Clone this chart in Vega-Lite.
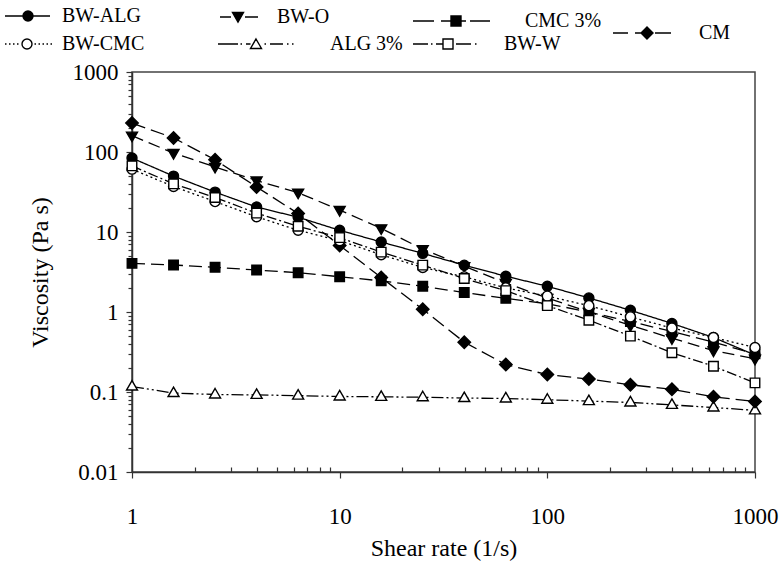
{
  "$schema": "https://vega.github.io/schema/vega-lite/v6.json",
  "width": 623,
  "height": 400,
  "autosize": {"type": "none"},
  "padding": {"left": 132, "top": 72, "right": 28, "bottom": 93},
  "background": "white",
  "config": {
    "view": {"stroke": "#444", "strokeWidth": 1.5},
    "font": "Liberation Serif",
    "axis": {"labelFont": "Liberation Serif", "labelFontSize": 23, "labelColor": "black", "titleFont": "Liberation Serif", "titleFontSize": 24, "titleFontWeight": "normal", "titleColor": "black", "grid": false, "domainColor": "#333", "domainWidth": 1.5, "tickColor": "#333", "tickWidth": 1.2, "labelFlush": false, "labelOverlap": false},
    "legend": {"symbolSize": 400, "symbolStrokeWidth": 1.4, "symbolOpacity": 1, "labelFont": "Liberation Serif", "labelFontSize": 20, "labelColor": "black", "labelOffset": 10, "padding": 0}
  },
  "data": {"values": [
    {"series":"ALG 3%","shear":1,"visc":0.117},{"series":"ALG 3%","shear":1.585,"visc":0.097},{"series":"ALG 3%","shear":2.512,"visc":0.093},{"series":"ALG 3%","shear":3.981,"visc":0.092},{"series":"ALG 3%","shear":6.31,"visc":0.09},{"series":"ALG 3%","shear":10,"visc":0.088},{"series":"ALG 3%","shear":15.85,"visc":0.087},{"series":"ALG 3%","shear":25.12,"visc":0.086},{"series":"ALG 3%","shear":39.81,"visc":0.084},{"series":"ALG 3%","shear":63.1,"visc":0.083},{"series":"ALG 3%","shear":100,"visc":0.08},{"series":"ALG 3%","shear":158.5,"visc":0.077},{"series":"ALG 3%","shear":251.2,"visc":0.074},{"series":"ALG 3%","shear":398.1,"visc":0.069},{"series":"ALG 3%","shear":631,"visc":0.064},{"series":"ALG 3%","shear":1000,"visc":0.059},
    {"series":"CM","shear":1,"visc":230},{"series":"CM","shear":1.585,"visc":150},{"series":"CM","shear":2.512,"visc":80},{"series":"CM","shear":3.981,"visc":36.5},{"series":"CM","shear":6.31,"visc":17},{"series":"CM","shear":10,"visc":6.8},{"series":"CM","shear":15.85,"visc":2.7},{"series":"CM","shear":25.12,"visc":1.08},{"series":"CM","shear":39.81,"visc":0.42},{"series":"CM","shear":63.1,"visc":0.22},{"series":"CM","shear":100,"visc":0.165},{"series":"CM","shear":158.5,"visc":0.145},{"series":"CM","shear":251.2,"visc":0.123},{"series":"CM","shear":398.1,"visc":0.108},{"series":"CM","shear":631,"visc":0.087},{"series":"CM","shear":1000,"visc":0.076},
    {"series":"CMC 3%","shear":1,"visc":4.05},{"series":"CMC 3%","shear":1.585,"visc":3.87},{"series":"CMC 3%","shear":2.512,"visc":3.62},{"series":"CMC 3%","shear":3.981,"visc":3.35},{"series":"CMC 3%","shear":6.31,"visc":3.1},{"series":"CMC 3%","shear":10,"visc":2.76},{"series":"CMC 3%","shear":15.85,"visc":2.45},{"series":"CMC 3%","shear":25.12,"visc":2.1},{"series":"CMC 3%","shear":39.81,"visc":1.75},{"series":"CMC 3%","shear":63.1,"visc":1.48},{"series":"CMC 3%","shear":100,"visc":1.27},{"series":"CMC 3%","shear":158.5,"visc":1.0},{"series":"CMC 3%","shear":251.2,"visc":0.76},{"series":"CMC 3%","shear":398.1,"visc":0.57},{"series":"CMC 3%","shear":631,"visc":0.42},{"series":"CMC 3%","shear":1000,"visc":0.3},
    {"series":"BW-O","shear":1,"visc":160},{"series":"BW-O","shear":1.585,"visc":97},{"series":"BW-O","shear":2.512,"visc":65},{"series":"BW-O","shear":3.981,"visc":44},{"series":"BW-O","shear":6.31,"visc":31},{"series":"BW-O","shear":10,"visc":18.8},{"series":"BW-O","shear":15.85,"visc":11.1},{"series":"BW-O","shear":25.12,"visc":6.1},{"series":"BW-O","shear":39.81,"visc":3.75},{"series":"BW-O","shear":63.1,"visc":2.3},{"series":"BW-O","shear":100,"visc":1.5},{"series":"BW-O","shear":158.5,"visc":1.0},{"series":"BW-O","shear":251.2,"visc":0.68},{"series":"BW-O","shear":398.1,"visc":0.47},{"series":"BW-O","shear":631,"visc":0.33},{"series":"BW-O","shear":1000,"visc":0.26},
    {"series":"BW-ALG","shear":1,"visc":84},{"series":"BW-ALG","shear":1.585,"visc":50},{"series":"BW-ALG","shear":2.512,"visc":31.5},{"series":"BW-ALG","shear":3.981,"visc":20.5},{"series":"BW-ALG","shear":6.31,"visc":15.3},{"series":"BW-ALG","shear":10,"visc":10.5},{"series":"BW-ALG","shear":15.85,"visc":7.5},{"series":"BW-ALG","shear":25.12,"visc":5.4},{"series":"BW-ALG","shear":39.81,"visc":3.85},{"series":"BW-ALG","shear":63.1,"visc":2.8},{"series":"BW-ALG","shear":100,"visc":2.1},{"series":"BW-ALG","shear":158.5,"visc":1.5},{"series":"BW-ALG","shear":251.2,"visc":1.05},{"series":"BW-ALG","shear":398.1,"visc":0.72},{"series":"BW-ALG","shear":631,"visc":0.48},{"series":"BW-ALG","shear":1000,"visc":0.29},
    {"series":"BW-CMC","shear":1,"visc":61},{"series":"BW-CMC","shear":1.585,"visc":37},{"series":"BW-CMC","shear":2.512,"visc":24},{"series":"BW-CMC","shear":3.981,"visc":15.5},{"series":"BW-CMC","shear":6.31,"visc":10.5},{"series":"BW-CMC","shear":10,"visc":7.8},{"series":"BW-CMC","shear":15.85,"visc":5.2},{"series":"BW-CMC","shear":25.12,"visc":3.6},{"series":"BW-CMC","shear":39.81,"visc":2.75},{"series":"BW-CMC","shear":63.1,"visc":2.0},{"series":"BW-CMC","shear":100,"visc":1.58},{"series":"BW-CMC","shear":158.5,"visc":1.2},{"series":"BW-CMC","shear":251.2,"visc":0.87},{"series":"BW-CMC","shear":398.1,"visc":0.63},{"series":"BW-CMC","shear":631,"visc":0.48},{"series":"BW-CMC","shear":1000,"visc":0.36},
    {"series":"BW-W","shear":1,"visc":67},{"series":"BW-W","shear":1.585,"visc":40},{"series":"BW-W","shear":2.512,"visc":27},{"series":"BW-W","shear":3.981,"visc":17.2},{"series":"BW-W","shear":6.31,"visc":11.8},{"series":"BW-W","shear":10,"visc":8.5},{"series":"BW-W","shear":15.85,"visc":5.6},{"series":"BW-W","shear":25.12,"visc":3.85},{"series":"BW-W","shear":39.81,"visc":2.62},{"series":"BW-W","shear":63.1,"visc":1.85},{"series":"BW-W","shear":100,"visc":1.2},{"series":"BW-W","shear":158.5,"visc":0.79},{"series":"BW-W","shear":251.2,"visc":0.5},{"series":"BW-W","shear":398.1,"visc":0.31},{"series":"BW-W","shear":631,"visc":0.21},{"series":"BW-W","shear":1000,"visc":0.13}
  ]},
  "layer": [
    {
      "mark": {"type": "line", "stroke": "black", "strokeWidth": 1.3},
      "encoding": {
        "x": {"field": "shear", "type": "quantitative", "scale": {"type": "log", "domain": [1, 1000], "nice": false},
              "axis": {"orient": "bottom", "values": [1, 10, 100, 1000], "format": "~g", "title": "Shear rate (1/s)", "tickSize": 6, "labelPadding": 27, "titlePadding": 8}},
        "y": {"field": "visc", "type": "quantitative", "scale": {"type": "log", "domain": [0.01, 1000], "nice": false},
              "axis": {"orient": "left", "values": [0.01, 0.1, 1, 10, 100, 1000], "format": "~g", "title": "Viscosity (Pa s)", "tickSize": 6, "labelPadding": 8, "titlePadding": 20}},
        "detail": {"field": "series", "type": "nominal"},
        "strokeDash": {"field": "series", "type": "nominal", "legend": null,
          "scale": {"domain": ["BW-ALG", "BW-CMC", "BW-O", "ALG 3%", "CMC 3%", "BW-W", "CM"],
                    "range": [[1, 0], [2, 3], [12, 6], [12, 3, 2, 3, 2, 3], [13, 6], [10, 3, 2, 3], [14, 6]]}}
      }
    },
    {
      "mark": {"type": "point", "filled": true, "stroke": "black", "strokeWidth": 1.4, "size": 100, "opacity": 1},
      "encoding": {
        "x": {"field": "shear", "type": "quantitative",
              "axis": {"orient": "bottom", "values": [2, 3, 4, 5, 6, 7, 8, 9, 20, 30, 40, 50, 60, 70, 80, 90, 200, 300, 400, 500, 600, 700, 800, 900], "labels": false, "domain": false, "tickSize": -5, "title": null}},
        "y": {"field": "visc", "type": "quantitative",
              "axis": {"orient": "left", "values": [0.02, 0.03, 0.04, 0.05, 0.06, 0.07, 0.08, 0.09, 0.2, 0.3, 0.4, 0.5, 0.6, 0.7, 0.8, 0.9, 2, 3, 4, 5, 6, 7, 8, 9, 20, 30, 40, 50, 60, 70, 80, 90, 200, 300, 400, 500, 600, 700, 800, 900], "labels": false, "domain": false, "tickSize": 4, "title": null}},
        "shape": {"field": "series", "type": "nominal", "legend": null,
          "scale": {"domain": ["BW-ALG", "BW-CMC", "BW-O", "ALG 3%", "CMC 3%", "BW-W", "CM"],
                    "range": ["M 1 0 A 1 1 0 1 1 -1 0 A 1 1 0 1 1 1 0 Z", "M 1 0 A 1 1 0 1 1 -1 0 A 1 1 0 1 1 1 0 Z", "M -1.1 -0.7 L 1.1 -0.7 L 0 1.2 Z", "M 0 -1.2 L 1.1 0.7 L -1.1 0.7 Z", "M -0.95 -0.95 L 0.95 -0.95 L 0.95 0.95 L -0.95 0.95 Z", "M -0.95 -0.95 L 0.95 -0.95 L 0.95 0.95 L -0.95 0.95 Z", "M -1.25 0 L 0 -1.25 L 1.25 0 L 0 1.25 Z"]}},
        "fill": {"field": "series", "type": "nominal", "legend": null,
          "scale": {"domain": ["BW-ALG", "BW-CMC", "BW-O", "ALG 3%", "CMC 3%", "BW-W", "CM"],
                    "range": ["black", "white", "black", "white", "black", "white", "black"]}}
      }
    },
    {
      "transform": [{"filter": "datum.series === 'BW-ALG'"}],
      "mark": {"type": "point", "filled": true, "fill": "black", "stroke": "black", "opacity": 0},
      "encoding": {
        "x": {"field": "shear", "type": "quantitative", "axis": null},
        "y": {"field": "visc", "type": "quantitative", "axis": null},
        "shape": {"field": "series", "type": "nominal", "scale": {"domain": ["BW-ALG"], "range": ["M -3.6 0 L 0.9 0 M -0.8 0 A 0.5 0.5 0 1 1 -1.8 0 A 0.5 0.5 0 1 1 -0.8 0 Z"]},
          "legend": {"orient": "none", "legendX": -102, "legendY": -67, "title": null,
            "encode": {"symbols": {"update": {"fill": {"value": "black"}, "stroke": {"value": "black"}, "strokeWidth": {"value": 1.4}, "opacity": {"value": 1}, "fillOpacity": {"value": 1}, "strokeOpacity": {"value": 1}}}}}}
      }
    },
    {
      "transform": [{"filter": "datum.series === 'BW-CMC'"}],
      "mark": {"type": "point", "filled": true, "fill": "white", "stroke": "black", "opacity": 0},
      "encoding": {
        "x": {"field": "shear", "type": "quantitative", "axis": null},
        "y": {"field": "visc", "type": "quantitative", "axis": null},
        "shape": {"field": "series", "type": "nominal", "scale": {"domain": ["BW-CMC"], "range": ["M -3.6 0 L -3.45 0 M -3.2 0 L -3.05 0 M -2.8 0 L -2.65 0 M -2.4 0 L -2.25 0 M -0.65 0 L -0.5 0 M -0.25 0 L -0.1 0 M 0.15 0 L 0.3 0 M 0.55 0 L 0.7 0 M 0.95 0 L 1.1 0 M -0.9 0 A 0.5 0.5 0 1 1 -1.9 0 A 0.5 0.5 0 1 1 -0.9 0 Z"]},
          "legend": {"orient": "none", "legendX": -102, "legendY": -39, "title": null,
            "encode": {"symbols": {"update": {"fill": {"value": "white"}, "stroke": {"value": "black"}, "strokeWidth": {"value": 1.4}, "opacity": {"value": 1}, "fillOpacity": {"value": 1}, "strokeOpacity": {"value": 1}}}}}}
      }
    },
    {
      "transform": [{"filter": "datum.series === 'BW-O'"}],
      "mark": {"type": "point", "filled": true, "fill": "black", "stroke": "black", "opacity": 0},
      "encoding": {
        "x": {"field": "shear", "type": "quantitative", "axis": null},
        "y": {"field": "visc", "type": "quantitative", "axis": null},
        "shape": {"field": "series", "type": "nominal", "scale": {"domain": ["BW-O"], "range": ["M -3.6 0 L -2.5 0 M -1.1 0 L 0.2 0 M -2.35 -0.45 L -1.25 -0.45 L -1.8 0.5 Z"]},
          "legend": {"orient": "none", "legendX": 113, "legendY": -66, "title": null,
            "encode": {"symbols": {"update": {"fill": {"value": "black"}, "stroke": {"value": "black"}, "strokeWidth": {"value": 1.4}, "opacity": {"value": 1}, "fillOpacity": {"value": 1}, "strokeOpacity": {"value": 1}}}}}}
      }
    },
    {
      "transform": [{"filter": "datum.series === 'ALG 3%'"}],
      "mark": {"type": "point", "filled": true, "fill": "white", "stroke": "black", "opacity": 0},
      "encoding": {
        "x": {"field": "shear", "type": "quantitative", "axis": null},
        "y": {"field": "visc", "type": "quantitative", "axis": null},
        "shape": {"field": "series", "type": "nominal", "scale": {"domain": ["ALG 3%"], "range": ["M -9.1 0 L -7.1 0 M -6.85 0 L -6.7 0 M -6.3 0 L -5.85 0 M -5.3 -0.5 L -4.75 0.45 L -5.85 0.45 Z M -4.45 0 L -4.3 0 M -3.9 0 L -2.6 0 M -2.2 0 L -2.05 0 M -1.7 0 L -1.55 0"]},
          "legend": {"orient": "none", "legendX": 166, "legendY": -39, "title": null,
            "encode": {"symbols": {"update": {"fill": {"value": "white"}, "stroke": {"value": "black"}, "strokeWidth": {"value": 1.4}, "opacity": {"value": 1}, "fillOpacity": {"value": 1}, "strokeOpacity": {"value": 1}}}}}}
      }
    },
    {
      "transform": [{"filter": "datum.series === 'CMC 3%'"}],
      "mark": {"type": "point", "filled": true, "fill": "black", "stroke": "black", "opacity": 0},
      "encoding": {
        "x": {"field": "shear", "type": "quantitative", "axis": null},
        "y": {"field": "visc", "type": "quantitative", "axis": null},
        "shape": {"field": "series", "type": "nominal", "scale": {"domain": ["CMC 3%"], "range": ["M -9.1 0 L -7 0 M -6.3 0 L -5.3 0 M -5.3 -0.5 L -4.3 -0.5 L -4.3 0.5 L -5.3 0.5 Z M -4.3 0 L -3.8 0 M -3.4 0 L -1.4 0"]},
          "legend": {"orient": "none", "legendX": 361, "legendY": -62, "title": null,
            "encode": {"symbols": {"update": {"fill": {"value": "black"}, "stroke": {"value": "black"}, "strokeWidth": {"value": 1.4}, "opacity": {"value": 1}, "fillOpacity": {"value": 1}, "strokeOpacity": {"value": 1}}}}}}
      }
    },
    {
      "transform": [{"filter": "datum.series === 'BW-W'"}],
      "mark": {"type": "point", "filled": true, "fill": "white", "stroke": "black", "opacity": 0},
      "encoding": {
        "x": {"field": "shear", "type": "quantitative", "axis": null},
        "y": {"field": "visc", "type": "quantitative", "axis": null},
        "shape": {"field": "series", "type": "nominal", "scale": {"domain": ["BW-W"], "range": ["M -7 0 L -5.5 0 M -5.2 0 L -5.05 0 M -4.7 0 L -4 0 M -4 -0.5 L -3 -0.5 L -3 0.5 L -4 0.5 Z M -2.7 0 L -1.2 0 M -0.8 0 L -0.65 0"]},
          "legend": {"orient": "none", "legendX": 340, "legendY": -39, "title": null,
            "encode": {"symbols": {"update": {"fill": {"value": "white"}, "stroke": {"value": "black"}, "strokeWidth": {"value": 1.4}, "opacity": {"value": 1}, "fillOpacity": {"value": 1}, "strokeOpacity": {"value": 1}}}}}}
      }
    },
    {
      "transform": [{"filter": "datum.series === 'CM'"}],
      "mark": {"type": "point", "filled": true, "fill": "black", "stroke": "black", "opacity": 0},
      "encoding": {
        "x": {"field": "shear", "type": "quantitative", "axis": null},
        "y": {"field": "visc", "type": "quantitative", "axis": null},
        "shape": {"field": "series", "type": "nominal", "scale": {"domain": ["CM"], "range": ["M -6.5 0 L -5 0 M -4.3 0 L -3.7 0 M -3.7 0 L -3.1 -0.6 L -2.5 0 L -3.1 0.6 Z M -2.3 0 L -0.7 0"]},
          "legend": {"orient": "none", "legendX": 535, "legendY": -50, "title": null,
            "encode": {"symbols": {"update": {"fill": {"value": "black"}, "stroke": {"value": "black"}, "strokeWidth": {"value": 1.4}, "opacity": {"value": 1}, "fillOpacity": {"value": 1}, "strokeOpacity": {"value": 1}}}}}}
      }
    }
  ],
  "resolve": {"scale": {"shape": "independent"}, "axis": {"x": "independent", "y": "independent"}}
}
